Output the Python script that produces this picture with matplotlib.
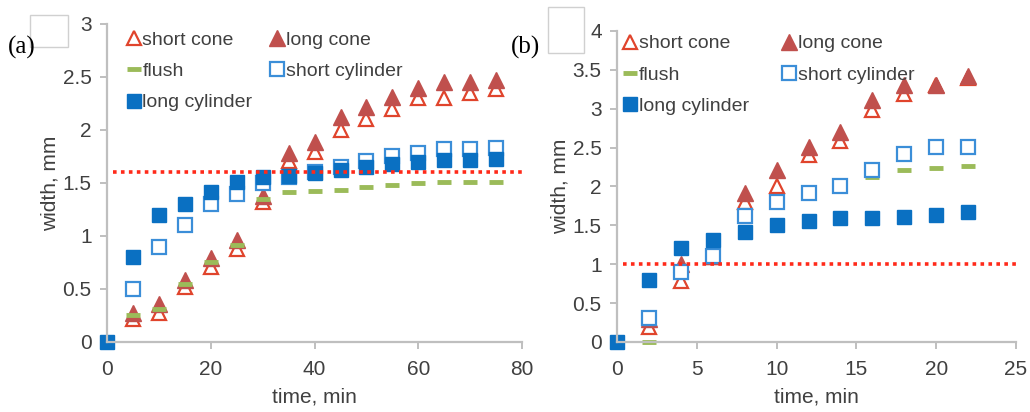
import matplotlib

matplotlib.use("Agg")
import matplotlib.pyplot as plt
from matplotlib.patches import Rectangle
from matplotlib.ticker import FuncFormatter

plt.rcParams["font.family"] = ["Liberation Sans", "DejaVu Sans"]

# panel (a): 0-75 min
time_a = [0, 5, 10, 15, 20, 25, 30, 35, 40, 45, 50, 55, 60, 65, 70, 75]
short_cone_a = [None, 0.22, 0.27, 0.52, 0.71, 0.88, 1.32, 1.71, 1.79, 2.0, 2.1, 2.2, 2.3, 2.3, 2.35, 2.39]
long_cone_a = [None, 0.27, 0.36, 0.58, 0.79, 0.96, 1.38, 1.78, 1.89, 2.12, 2.22, 2.31, 2.4, 2.45, 2.45, 2.47]
flush_a = [None, 0.25, 0.31, 0.55, 0.75, 0.91, 1.35, 1.41, 1.42, 1.43, 1.46, 1.48, 1.5, 1.51, 1.51, 1.51]
short_cyl_a = [None, 0.5, 0.9, 1.1, 1.3, 1.4, 1.5, 1.56, 1.6, 1.65, 1.71, 1.75, 1.78, 1.82, 1.82, 1.83]
long_cyl_a = [0, 0.8, 1.2, 1.3, 1.41, 1.51, 1.56, 1.57, 1.59, 1.62, 1.65, 1.68, 1.7, 1.72, 1.72, 1.73]
limit_a = 1.6

# panel (b): 0-22 min
time_b = [0, 2, 4, 6, 8, 10, 12, 14, 16, 18, 20, 22]
short_cone_b = [None, 0.19, 0.79, 1.09, 1.8, 2.0, 2.4, 2.59, 2.98, 3.19, 3.3, 3.4]
long_cone_b = [None, 0.3, 1.0, 1.11, 1.91, 2.21, 2.51, 2.7, 3.11, 3.31, 3.31, 3.42]
flush_b = [None, 0.0, 0.9, 1.17, 1.55, 1.81, 1.92, 2.0, 2.12, 2.21, 2.24, 2.26]
short_cyl_b = [None, 0.31, 0.9, 1.1, 1.62, 1.8, 1.91, 2.01, 2.21, 2.42, 2.51, 2.51]
long_cyl_b = [0, 0.8, 1.21, 1.31, 1.41, 1.51, 1.56, 1.59, 1.6, 1.61, 1.63, 1.67]
limit_b = 1.0

RED = "#c0504d"
RED_OPEN = "#e0442c"
GREEN = "#9bbb59"
BLUE = "#0a70c2"
BLUE_OPEN = "#3b8ed8"
TXT = "#404040"
GRID = "#bfbfbf"


def clean(xs, ys):
    pts = [(x, y) for x, y in zip(xs, ys) if y is not None]
    return [p[0] for p in pts], [p[1] for p in pts]


def draw_panel(ax, t, sc, lc, fl, scy, lcy, limit, xmax, ymax, xstep, xline0, leg_anchor, colspace):
    kw = dict(ls="none", clip_on=False)
    ax.plot(*clean(t, sc), marker="^", ms=10, mfc="white", mec=RED_OPEN, mew=1.6, label="short cone", **kw)
    ax.plot(*clean(t, lc), marker="^", ms=11, color=RED, label="long cone", **kw)
    ax.plot(*clean(t, fl), marker="_", ms=10, mew=3.5, color=GREEN, label="flush", **kw)
    ax.plot(*clean(t, scy), marker="s", ms=10, mfc="white", mec=BLUE_OPEN, mew=1.6, label="short cylinder", **kw)
    ax.plot(*clean(t, lcy), marker="s", ms=10, color=BLUE, label="long cylinder", **kw)
    ax.plot([xline0, xmax * 1.005], [limit, limit], ls=(0, (1, 1.2)), lw=2.6, color="#ff2a1a", clip_on=False)

    ax.set_xlim(0, xmax)
    ax.set_ylim(0, ymax)
    ax.set_xticks(range(0, xmax + 1, xstep))
    ax.set_yticks([v * 0.5 for v in range(int(ymax * 2) + 1)])
    ax.yaxis.set_major_formatter(FuncFormatter(lambda v, p: f"{v:g}"))
    for s in ["top", "right"]:
        ax.spines[s].set_visible(False)
    for s in ["left", "bottom"]:
        ax.spines[s].set_color(GRID)
        ax.spines[s].set_linewidth(1.6)
    ax.tick_params(colors=GRID, labelcolor=TXT, labelsize=15, length=5, width=1.4)
    ax.tick_params(axis="x", pad=8)
    ax.tick_params(axis="y", pad=6)
    ax.set_xlabel("time, min", fontsize=15, color=TXT, labelpad=6)
    ax.set_ylabel("width, mm", fontsize=15, color=TXT, labelpad=2)

    handles, labels = ax.get_legend_handles_labels()
    # row order: short cone / long cone, flush / short cylinder, long cylinder
    order = [0, 2, 4, 1, 3]
    ax.legend([handles[i] for i in order], [labels[i] for i in order], ncol=2, frameon=False,
              loc="upper left", bbox_to_anchor=leg_anchor, fontsize=14, labelcolor=TXT,
              handlelength=0.6, handletextpad=0.15, columnspacing=colspace, labelspacing=0.7,
              borderaxespad=0.2)


fig = plt.figure(figsize=(10.3, 4.12), dpi=100)
ax_a = fig.add_axes([0.1039, 0.17, 0.403, 0.772])
ax_b = fig.add_axes([0.599, 0.17, 0.3874, 0.755])
ax_a.patch.set_alpha(0)
ax_b.patch.set_alpha(0)

draw_panel(ax_a, time_a, short_cone_a, long_cone_a, flush_a, short_cyl_a, long_cyl_a,
           limit_a, 80, 3, 20, 1.2, (0.022, 1.013), 0.95)
draw_panel(ax_b, time_b, short_cone_b, long_cone_b, flush_b, short_cyl_b, long_cyl_b,
           limit_b, 25, 4, 5, 0.4, (-0.01, 1.025), 1.75)

for sx, sy, bw, bh in [(30, 15, 38, 32), (548, 7, 36, 46)]:
    fig.patches.append(Rectangle((sx / 1030, 1 - (sy + bh) / 412), bw / 1030, bh / 412,
                                 transform=fig.transFigure, fill=False, ec="#d0d0d0", lw=1))

fig.text(8 / 1030, 1 - 47 / 412, "(a)", fontsize=18, family=["Liberation Serif", "DejaVu Serif"], va="center")
fig.text(511 / 1030, 1 - 47 / 412, "(b)", fontsize=18, family=["Liberation Serif", "DejaVu Serif"], va="center")

fig.savefig("out.png", dpi=100)
plt.close(fig)
